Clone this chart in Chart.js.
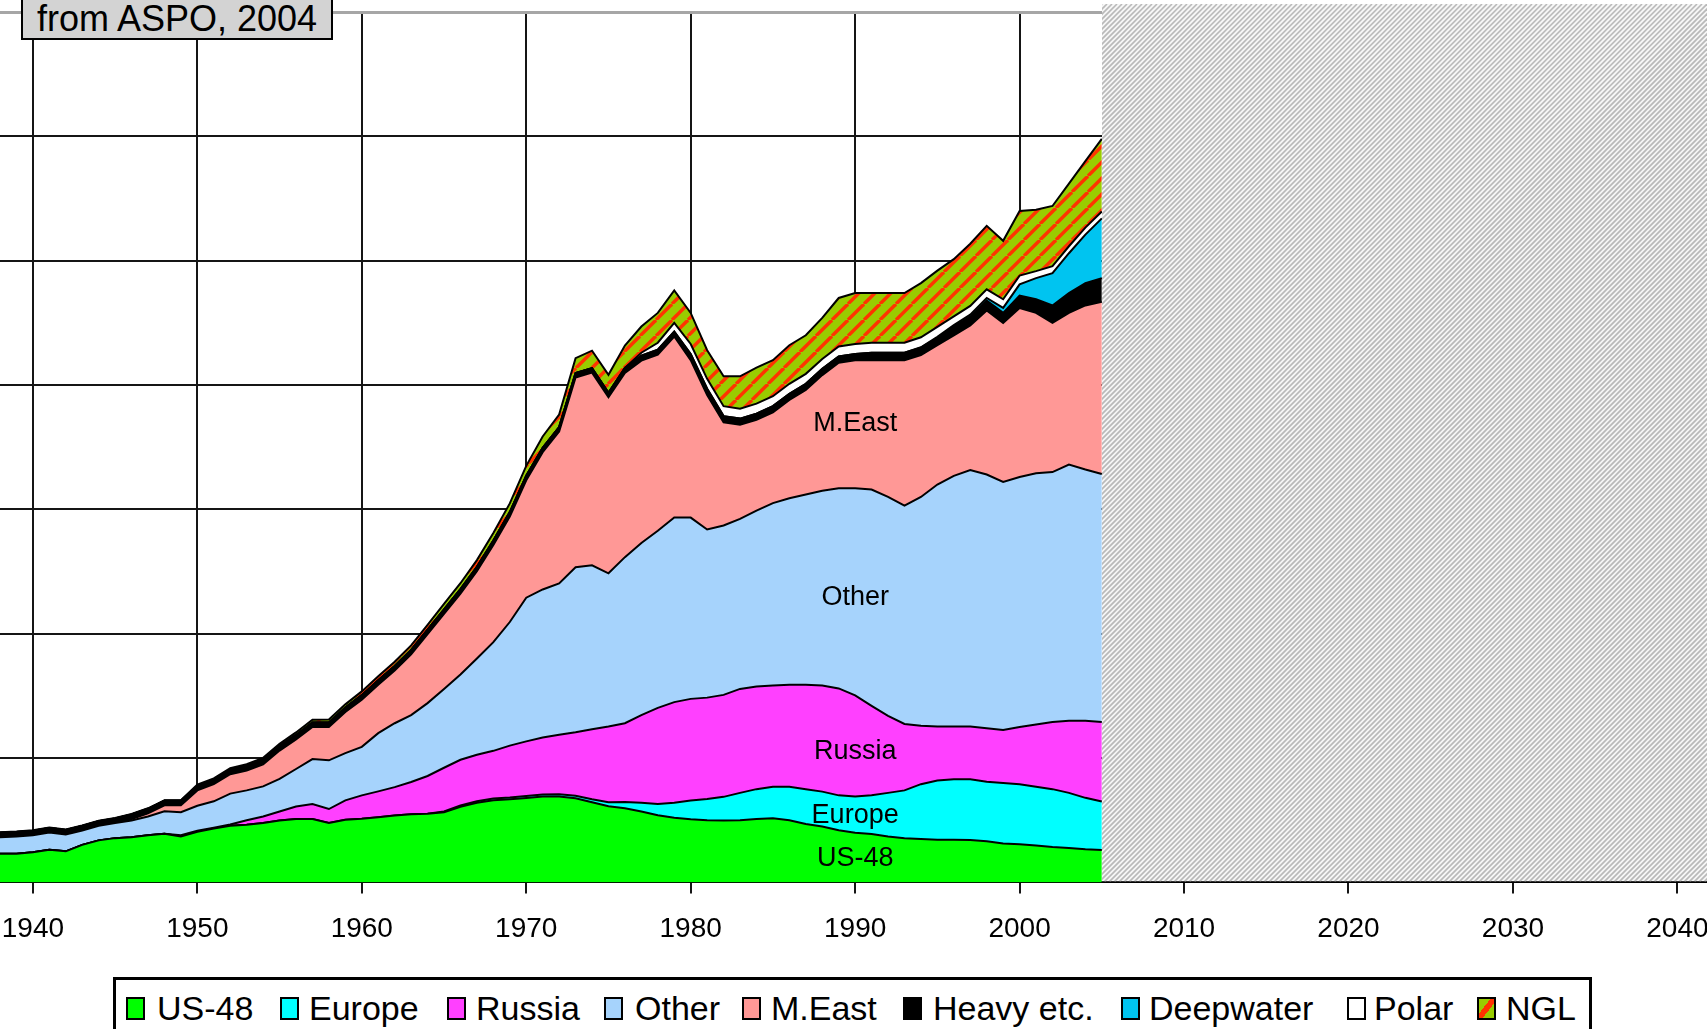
<!DOCTYPE html>
<html>
<head>
<meta charset="utf-8">
<script src="https://cdn.jsdelivr.net/npm/chart.js@4.4.1/dist/chart.umd.min.js"></script>
<style>
  html, body { margin:0; padding:0; background:#fff; width:1707px; height:1029px; overflow:hidden; position:relative;
    font-family:'Liberation Sans', Arial, sans-serif; color:#000; }
  #wrap { position:absolute; left:0; top:0; width:1707px; height:965px; }
  #title { position:absolute; left:21px; top:-3px; width:312px; height:43px; box-sizing:border-box;
    background:#d3d3d3; border:2px solid #000; font-size:36px; line-height:39px; text-align:center; white-space:nowrap; }
  #legendBox { position:absolute; left:113px; top:977px; width:1479px; height:90px; box-sizing:border-box;
    border:3px solid #000; background:#fff; }
  .sw { position:absolute; top:997px; width:19px; height:23px; box-sizing:border-box; border:2px solid #000; }
  .lt { position:absolute; top:991px; height:34px; font-size:34px; line-height:34px; white-space:nowrap; }
</style>
</head>
<body>
<div id="wrap"><canvas id="c" width="1707" height="965"></canvas></div>
<div id="title">from ASPO, 2004</div>
<div id="legendBox"></div>
<script>
// ---------------- data (Gb per year) ----------------
const years = [1938,1939,1940,1941,1942,1943,1944,1945,1946,1947,
  1948,1949,1950,1951,1952,1953,1954,1955,1956,1957,
  1958,1959,1960,1961,1962,1963,1964,1965,1966,1967,
  1968,1969,1970,1971,1972,1973,1974,1975,1976,1977,
  1978,1979,1980,1981,1982,1983,1984,1985,1986,1987,
  1988,1989,1990,1991,1992,1993,1994,1995,1996,1997,
  1998,1999,2000,2001,2002,2003,2004,2005];

const us48 = [1.15,1.15,1.21,1.31,1.25,1.51,1.69,1.78,1.82,1.90,
  1.96,1.85,2.04,2.17,2.28,2.32,2.39,2.49,2.55,2.55,
  2.39,2.52,2.56,2.62,2.69,2.74,2.76,2.82,3.04,3.20,
  3.30,3.34,3.39,3.45,3.45,3.38,3.22,3.06,2.98,2.85,
  2.70,2.60,2.54,2.50,2.49,2.50,2.55,2.58,2.50,2.35,
  2.25,2.10,2.00,1.95,1.85,1.78,1.75,1.72,1.72,1.70,
  1.65,1.56,1.53,1.48,1.42,1.38,1.33,1.30];

const europe = [0,0,0,0,0,0,0,0,0,0,
  0,0,0,0,0,0,0,0,0,0,
  0,0,0,0,0,0,0,0.03,0.05,0.06,
  0.07,0.07,0.08,0.08,0.09,0.10,0.12,0.16,0.25,0.35,
  0.45,0.60,0.75,0.85,0.95,1.10,1.20,1.27,1.35,1.40,
  1.40,1.40,1.45,1.55,1.75,1.92,2.20,2.38,2.43,2.45,
  2.40,2.44,2.42,2.37,2.33,2.22,2.07,1.95];

const russia = [0,0,0,0,0,0,0,0,0,0,
  0,0.05,0.04,0.03,0.05,0.18,0.26,0.36,0.50,0.60,
  0.56,0.78,0.94,1.04,1.14,1.30,1.52,1.76,1.84,1.87,
  1.92,2.09,2.20,2.30,2.40,2.56,2.82,3.05,3.17,3.53,
  3.87,4.05,4.09,4.08,4.10,4.18,4.13,4.07,4.10,4.20,
  4.27,4.30,4.07,3.60,3.10,2.67,2.35,2.17,2.12,2.12,
  2.15,2.13,2.30,2.50,2.70,2.90,3.10,3.20];

const other = [0.67,0.70,0.69,0.70,0.68,0.58,0.59,0.61,0.67,0.75,
  0.90,0.92,1.00,1.06,1.24,1.20,1.21,1.31,1.51,1.81,
  1.96,1.90,1.95,2.34,2.57,2.69,2.93,3.17,3.43,3.87,
  4.37,4.97,5.78,5.95,6.08,6.63,6.59,6.16,6.68,6.92,
  7.12,7.42,7.29,6.76,6.81,6.84,7.07,7.33,7.50,7.65,
  7.83,8.05,8.33,8.70,8.80,8.78,9.20,9.73,10.08,10.31,
  10.20,9.97,10.05,10.10,10.05,10.30,10.10,9.97];

const mEast = [0,0,0,0,0,0,0,0,0.06,0.13,
  0.24,0.28,0.62,0.69,0.78,0.80,0.89,1.14,1.19,1.29,
  1.34,1.65,1.90,1.95,2.12,2.44,2.77,3.02,3.25,3.51,
  3.91,4.24,4.72,5.52,6.11,7.63,7.75,7.08,7.41,7.33,
  7.08,7.28,6.33,5.41,4.15,3.78,3.65,3.65,3.95,4.20,
  4.65,5.05,5.15,5.20,5.50,5.85,5.70,5.60,5.65,5.82,
  6.60,6.40,6.80,6.45,6.00,6.10,6.60,6.93];

const heavy = [0.18,0.18,0.18,0.18,0.18,0.18,0.18,0.18,0.18,0.18,
  0.18,0.18,0.18,0.18,0.18,0.18,0.18,0.18,0.18,0.18,
  0.18,0.18,0.18,0.18,0.18,0.18,0.18,0.18,0.18,0.18,
  0.18,0.18,0.18,0.18,0.18,0.18,0.18,0.18,0.20,0.20,
  0.20,0.20,0.25,0.25,0.25,0.25,0.25,0.25,0.25,0.25,
  0.25,0.25,0.25,0.30,0.30,0.30,0.30,0.30,0.35,0.35,
  0.40,0.40,0.50,0.55,0.70,0.80,0.90,0.95];

const deepwater = [0,0,0,0,0,0,0,0,0,0,
  0,0,0,0,0,0,0,0,0,0,
  0,0,0,0,0,0,0,0,0,0,
  0,0,0,0,0,0,0,0,0,0,
  0,0,0,0,0,0,0,0,0,0,
  0,0,0,0,0,0,0.02,0.04,0.06,0.08,
  0.10,0.20,0.45,0.85,1.30,1.60,1.95,2.40];

const polar = [0,0,0,0,0,0,0,0,0,0,
  0,0,0,0,0,0,0,0,0,0,
  0,0,0,0,0,0,0,0,0,0,
  0,0,0,0,0,0,0,0,0,0.12,
  0.28,0.35,0.40,0.40,0.40,0.40,0.40,0.40,0.40,0.40,
  0.40,0.40,0.40,0.40,0.40,0.40,0.40,0.40,0.35,0.35,
  0.35,0.35,0.35,0.28,0.28,0.28,0.28,0.28];

const ngl = [0.02,0.02,0.02,0.02,0.02,0.02,0.02,0.02,0.02,0.02,
  0.02,0.02,0.05,0.05,0.06,0.07,0.08,0.09,0.10,0.11,
  0.12,0.13,0.15,0.16,0.17,0.18,0.20,0.22,0.24,0.27,
  0.30,0.35,0.40,0.45,0.50,0.60,0.70,0.72,0.90,1.05,
  1.20,1.30,1.25,1.15,1.20,1.30,1.45,1.45,1.55,1.55,
  1.65,1.95,2.05,2.00,2.00,2.00,2.18,2.26,2.30,2.50,
  2.55,2.35,2.60,2.47,2.42,2.52,2.67,2.92];

const seriesNames = ['US-48','Europe','Russia','Other','M.East','Heavy etc.','Deepwater','Polar','NGL'];
const xTickLabels = ['1940','1950','1960','1970','1980','1990','2000','2010','2020','2030','2040'];
const hatchFromYear = 2005;
const areaLabels = [
  { text: 'M.East', year: 1990, value: 18.44 },
  { text: 'Other',  year: 1990, value: 11.45 },
  { text: 'Russia', year: 1990, value: 5.26 },
  { text: 'Europe', year: 1990, value: 2.69 },
  { text: 'US-48',  year: 1990, value: 0.96 }
];

// ---------------- styles ----------------
const FONT = "'Liberation Sans', Arial, sans-serif";
Chart.defaults.font.family = FONT;

function makeNglPattern() {
  const p = document.createElement('canvas');
  const s = 16;
  p.width = s; p.height = s;
  const g = p.getContext('2d');
  g.fillStyle = '#99cc00';
  g.fillRect(0, 0, s, s);
  g.strokeStyle = '#ff3300';
  g.lineWidth = 3.4;
  for (const off of [-s, 0, s]) {
    g.beginPath();
    g.moveTo(off, s);
    g.lineTo(off + s, 0);
    g.stroke();
  }
  return g.createPattern(p, 'repeat');
}
const nglPattern = makeNglPattern();

const fills = ['#00ff00', '#00ffff', '#ff40ff', '#a6d3fc', '#ff9896', '#000000', '#00c4f0', '#ffffff', nglPattern];
const swatchCss = ['#00ff00', '#00ffff', '#ff40ff', '#a6d3fc', '#ff9896', '#000000', '#00c4f0', '#ffffff',
  'linear-gradient(to bottom right, #99cc00 0 38%, #ff3300 38% 62%, #99cc00 62% 100%)'];
const seriesData = [us48, europe, russia, other, mEast, heavy, deepwater, polar, ngl];

const datasets = seriesData.map((arr, i) => ({
  label: seriesNames[i],
  data: years.map((yr, k) => ({ x: yr, y: arr[k] })),
  backgroundColor: fills[i],
  borderColor: '#000',
  borderWidth: 2,
  fill: i === 0 ? 'origin' : '-1',
  pointRadius: 0,
  tension: 0
}));

// hatch + labels plugin
const overlayPlugin = {
  id: 'overlay',
  afterDatasetsDraw(chart) {
    const { ctx, chartArea, scales } = chart;
    const x0 = Math.round(scales.x.getPixelForValue(hatchFromYear));
    const x1 = chart.width;
    const top = 4, bottom = chartArea.bottom - 1;
    ctx.save();
    ctx.beginPath();
    ctx.rect(x0, top, x1 - x0, bottom - top);
    ctx.clip();
    ctx.fillStyle = '#f6f6f6';
    ctx.fillRect(x0, top, x1 - x0, bottom - top);
    ctx.strokeStyle = '#b9b9b9';
    ctx.lineWidth = 1.6;
    const H = bottom - top;
    for (let k = x0 - H - 10; k < x1 + 10; k += 5) {
      ctx.beginPath();
      ctx.moveTo(k, bottom);
      ctx.lineTo(k + H, top);
      ctx.stroke();
    }
    ctx.restore();

    ctx.save();
    ctx.fillStyle = '#000';
    ctx.font = '27px ' + FONT;
    ctx.textAlign = 'center';
    ctx.textBaseline = 'middle';
    areaLabels.forEach(l => {
      ctx.fillText(l.text, scales.x.getPixelForValue(l.year), scales.y.getPixelForValue(l.value));
    });
    ctx.restore();
  }
};

new Chart(document.getElementById('c'), {
  type: 'line',
  data: { datasets },
  options: {
    responsive: false,
    animation: false,
    devicePixelRatio: 1,
    layout: { padding: { top: 12, left: 0, right: 0, bottom: 0 } },
    plugins: { legend: { display: false }, tooltip: { enabled: false }, title: { display: false } },
    elements: { point: { radius: 0 }, line: { tension: 0 } },
    scales: {
      x: {
        type: 'linear',
        min: 1938,
        max: 2041.8,
        ticks: {
          stepSize: 10,
          includeBounds: false,
          autoSkip: false,
          maxRotation: 0,
          padding: 19,
          color: '#000',
          font: { size: 28, family: FONT },
          callback: (v) => {
            const i = Math.round((v - 1940) / 10);
            return (i >= 0 && i < xTickLabels.length) ? xTickLabels[i] : '';
          }
        },
        grid: { color: '#151515', lineWidth: 2, tickLength: 11, drawOnChartArea: true },
        border: { display: true, color: '#000', width: 2 },
        afterFit: (s) => { s.paddingLeft = 0; s.paddingRight = 0; }
      },
      y: {
        stacked: true,
        min: 0,
        max: 35,
        ticks: { stepSize: 5, display: false },
        grid: {
          color: (c) => (c.tick && c.tick.value === 35) ? '#a6a6a6' : '#151515',
          lineWidth: (c) => (c.tick && c.tick.value === 35) ? 3 : 2,
          drawTicks: false
        },
        border: { display: false }
      }
    }
  },
  plugins: [overlayPlugin]
});

// ---------------- legend (HTML) ----------------
const legendBoxX = [126, 280, 447, 604, 742, 903, 1121, 1347, 1477];
const legendTextX = [157, 309, 476, 635, 771, 933, 1149, 1374, 1506];
seriesNames.forEach((name, i) => {
  const sw = document.createElement('div');
  sw.className = 'sw';
  sw.style.left = legendBoxX[i] + 'px';
  sw.style.background = swatchCss[i];
  document.body.appendChild(sw);
  const t = document.createElement('div');
  t.className = 'lt';
  t.style.left = legendTextX[i] + 'px';
  t.textContent = name;
  document.body.appendChild(t);
});
</script>
</body>
</html>
